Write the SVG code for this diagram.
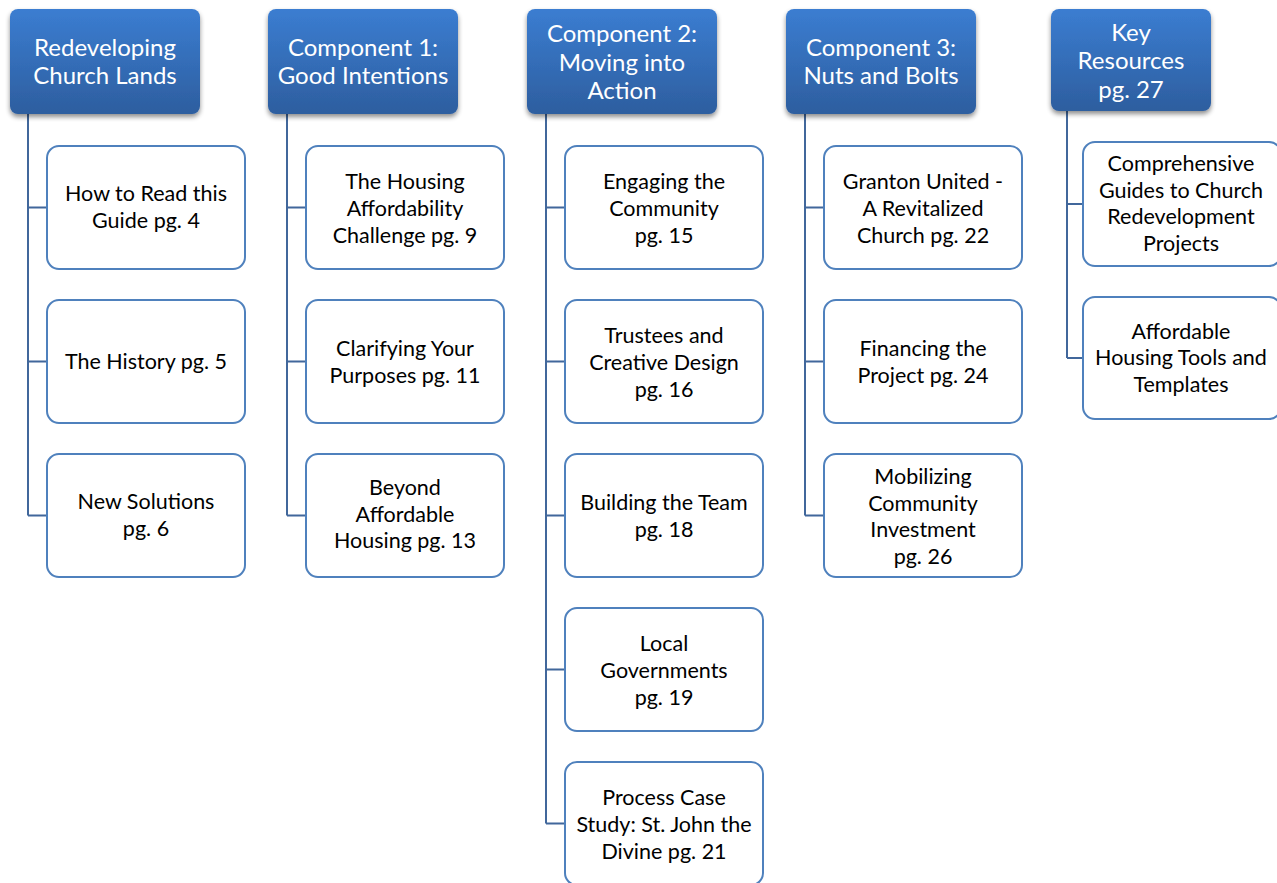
<svg xmlns="http://www.w3.org/2000/svg" width="1277" height="883" viewBox="0 0 1277 883">
<defs>
<linearGradient id="hg" x1="0" y1="0" x2="0" y2="1">
<stop offset="0" stop-color="#3b7dd1"/>
<stop offset="1" stop-color="#2d5e9f"/>
</linearGradient>
<filter id="sh" x="-10%" y="-10%" width="130%" height="140%">
<feGaussianBlur in="SourceAlpha" stdDeviation="2.5"/>
<feOffset dx="0" dy="3" result="b"/>
<feComponentTransfer><feFuncA type="linear" slope="0.45"/></feComponentTransfer>
<feMerge><feMergeNode/><feMergeNode in="SourceGraphic"/></feMerge>
</filter>
</defs>
<style>
.hd{fill:url(#hg);filter:url(#sh)}
.ht{fill:#ffffff;font-family:Lato,"Liberation Sans",sans-serif;font-size:24px;text-anchor:middle}
.cb{fill:#ffffff;stroke:#4f81bd;stroke-width:2}
.ct{fill:#000000;font-family:Lato,"Liberation Sans",sans-serif;font-size:21.5px;text-anchor:middle}
.cn{fill:none;stroke:#41679b;stroke-width:2}
</style>
<rect width="1277" height="883" fill="#ffffff"/>
<g id="connectors">
<path class="cn" d="M28 114V515.5M28 207.5H47M28 361.5H47M28 515.5H47"/>
<path class="cn" d="M287 114V515.5M287 207.5H306M287 361.5H306M287 515.5H306"/>
<path class="cn" d="M546 114V823.5M546 207.5H565M546 361.5H565M546 515.5H565M546 669.5H565M546 823.5H565"/>
<path class="cn" d="M805 114V515.5M805 207.5H824M805 361.5H824M805 515.5H824"/>
<path class="cn" d="M1067 111V358M1067 204H1083M1067 358H1083"/>
</g>
<g id="h1"><rect class="hd" x="10" y="9" width="190" height="105" rx="8"/>
<text class="ht"><tspan x="105" y="55.5">Redeveloping</tspan><tspan x="105" y="83.5">Church Lands</tspan></text></g>
<g id="h2"><rect class="hd" x="268" y="9" width="190" height="105" rx="8"/>
<text class="ht"><tspan x="363" y="55.5">Component 1:</tspan><tspan x="363" y="83.5">Good Intentions</tspan></text></g>
<g id="h3"><rect class="hd" x="527" y="9" width="190" height="105" rx="8"/>
<text class="ht"><tspan x="622" y="41.5">Component 2:</tspan><tspan x="622" y="70.5">Moving into</tspan><tspan x="622" y="98.5">Action</tspan></text></g>
<g id="h4"><rect class="hd" x="786" y="9" width="190" height="105" rx="8"/>
<text class="ht"><tspan x="881" y="55.5">Component 3:</tspan><tspan x="881" y="83.5">Nuts and Bolts</tspan></text></g>
<g id="h5"><rect class="hd" x="1051" y="9" width="160" height="102" rx="8"/>
<text class="ht"><tspan x="1131" y="40.5">Key</tspan><tspan x="1131" y="68.5">Resources</tspan><tspan x="1131" y="97.5">pg. 27</tspan></text></g>

<g id="c1a"><rect class="cb" x="47" y="146" width="198" height="123" rx="12"/>
<text class="ct"><tspan x="146" y="200.5">How to Read this</tspan><tspan x="146" y="227.5">Guide pg. 4</tspan></text></g>
<g id="c1b"><rect class="cb" x="47" y="300" width="198" height="123" rx="12"/>
<text class="ct"><tspan x="146" y="368.5">The History pg. 5</tspan></text></g>
<g id="c1c"><rect class="cb" x="47" y="454" width="198" height="123" rx="12"/>
<text class="ct"><tspan x="146" y="508.5">New Solutions</tspan><tspan x="146" y="535.5">pg. 6</tspan></text></g>

<g id="c2a"><rect class="cb" x="306" y="146" width="198" height="123" rx="12"/>
<text class="ct"><tspan x="405" y="188.5">The Housing</tspan><tspan x="405" y="215.5">Affordability</tspan><tspan x="405" y="242.5">Challenge pg. 9</tspan></text></g>
<g id="c2b"><rect class="cb" x="306" y="300" width="198" height="123" rx="12"/>
<text class="ct"><tspan x="405" y="355.5">Clarifying Your</tspan><tspan x="405" y="382.5">Purposes pg. 11</tspan></text></g>
<g id="c2c"><rect class="cb" x="306" y="454" width="198" height="123" rx="12"/>
<text class="ct"><tspan x="405" y="494.5">Beyond</tspan><tspan x="405" y="521.5">Affordable</tspan><tspan x="405" y="547.5">Housing pg. 13</tspan></text></g>

<g id="c3a"><rect class="cb" x="565" y="146" width="198" height="123" rx="12"/>
<text class="ct"><tspan x="664" y="188.5">Engaging the</tspan><tspan x="664" y="215.5">Community</tspan><tspan x="664" y="242.5">pg. 15</tspan></text></g>
<g id="c3b"><rect class="cb" x="565" y="300" width="198" height="123" rx="12"/>
<text class="ct"><tspan x="664" y="342.5">Trustees and</tspan><tspan x="664" y="369.5">Creative Design</tspan><tspan x="664" y="396.5">pg. 16</tspan></text></g>
<g id="c3c"><rect class="cb" x="565" y="454" width="198" height="123" rx="12"/>
<text class="ct"><tspan x="664" y="509.5">Building the Team</tspan><tspan x="664" y="536.5">pg. 18</tspan></text></g>
<g id="c3d"><rect class="cb" x="565" y="608" width="198" height="123" rx="12"/>
<text class="ct"><tspan x="664" y="650.5">Local</tspan><tspan x="664" y="677.5">Governments</tspan><tspan x="664" y="704.5">pg. 19</tspan></text></g>
<g id="c3e"><rect class="cb" x="565" y="762" width="198" height="123" rx="12"/>
<text class="ct"><tspan x="664" y="804.5">Process Case</tspan><tspan x="664" y="831.5">Study: St. John the</tspan><tspan x="664" y="858.5">Divine pg. 21</tspan></text></g>

<g id="c4a"><rect class="cb" x="824" y="146" width="198" height="123" rx="12"/>
<text class="ct"><tspan x="923" y="188.5">Granton United -</tspan><tspan x="923" y="215.5">A Revitalized</tspan><tspan x="923" y="242.5">Church pg. 22</tspan></text></g>
<g id="c4b"><rect class="cb" x="824" y="300" width="198" height="123" rx="12"/>
<text class="ct"><tspan x="923" y="355.5">Financing the</tspan><tspan x="923" y="382.5">Project pg. 24</tspan></text></g>
<g id="c4c"><rect class="cb" x="824" y="454" width="198" height="123" rx="12"/>
<text class="ct"><tspan x="923" y="483.5">Mobilizing</tspan><tspan x="923" y="510.5">Community</tspan><tspan x="923" y="536.5">Investment</tspan><tspan x="923" y="563.5">pg. 26</tspan></text></g>

<g id="c5a"><rect class="cb" x="1083" y="142" width="198" height="124" rx="12"/>
<text class="ct"><tspan x="1181" y="170.5">Comprehensive</tspan><tspan x="1181" y="197.5">Guides to Church</tspan><tspan x="1181" y="223.5">Redevelopment</tspan><tspan x="1181" y="250.5">Projects</tspan></text></g>
<g id="c5b"><rect class="cb" x="1083" y="297" width="198" height="122" rx="12"/>
<text class="ct"><tspan x="1181" y="338.5">Affordable</tspan><tspan x="1181" y="364.5">Housing Tools and</tspan><tspan x="1181" y="391.5">Templates</tspan></text></g>
</svg>
